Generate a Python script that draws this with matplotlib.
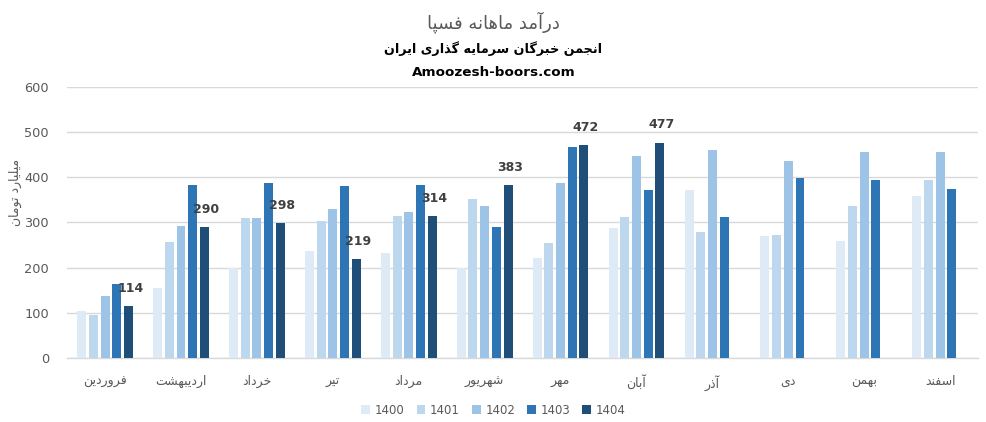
import numpy as np
import matplotlib
matplotlib.use("Agg")
import matplotlib.pyplot as plt
from matplotlib.patches import Patch

# ---------------- data ----------------
title_main = "درآمد ماهانه فسپا"
title_sub = "انجمن خبرگان سرمایه گذاری ایران"
title_site = "Amoozesh-boors.com"
y_label = "میلیارد تومان"

months = ["فروردین", "اردیبهشت", "خرداد", "تیر", "مرداد", "شهریور",
          "مهر", "آبان", "آذر", "دی", "بهمن", "اسفند"]
years = ["1400", "1401", "1402", "1403", "1404"]

v1400 = [104, 155, 200, 237, 232, 199, 221, 288, 372, 270, 259, 359]
v1401 = [96, 257, 310, 303, 314, 352, 255, 312, 279, 272, 336, 394]
v1402 = [138, 293, 310, 330, 323, 336, 388, 447, 461, 436, 456, 456]
v1403 = [164, 384, 388, 381, 383, 290, 467, 372, 312, 398, 394, 374]
v1404 = [114, 290, 298, 219, 314, 383, 472, 477, None, None, None, None]

y_ticks = [0, 100, 200, 300, 400, 500, 600]

colors = ["#DEEAF6", "#BDD7EE", "#9DC3E6", "#2E75B6", "#1F4E79"]

# ---------------- minimal Arabic/Persian shaping ----------------
# (isolated, final, initial, medial) ; right-joining letters have only 2 forms
FORMS = {
    "ا": (0xFE8D, 0xFE8E), "آ": (0xFE81, 0xFE82),
    "ب": (0xFE8F, 0xFE90, 0xFE91, 0xFE92), "ت": (0xFE95, 0xFE96, 0xFE97, 0xFE98),
    "ث": (0xFE99, 0xFE9A, 0xFE9B, 0xFE9C), "ج": (0xFE9D, 0xFE9E, 0xFE9F, 0xFEA0),
    "ح": (0xFEA1, 0xFEA2, 0xFEA3, 0xFEA4), "خ": (0xFEA5, 0xFEA6, 0xFEA7, 0xFEA8),
    "د": (0xFEA9, 0xFEAA), "ذ": (0xFEAB, 0xFEAC), "ر": (0xFEAD, 0xFEAE),
    "ز": (0xFEAF, 0xFEB0), "ژ": (0xFB8A, 0xFB8B),
    "س": (0xFEB1, 0xFEB2, 0xFEB3, 0xFEB4), "ش": (0xFEB5, 0xFEB6, 0xFEB7, 0xFEB8),
    "ص": (0xFEB9, 0xFEBA, 0xFEBB, 0xFEBC), "ض": (0xFEBD, 0xFEBE, 0xFEBF, 0xFEC0),
    "ط": (0xFEC1, 0xFEC2, 0xFEC3, 0xFEC4), "ظ": (0xFEC5, 0xFEC6, 0xFEC7, 0xFEC8),
    "ع": (0xFEC9, 0xFECA, 0xFECB, 0xFECC), "غ": (0xFECD, 0xFECE, 0xFECF, 0xFED0),
    "ف": (0xFED1, 0xFED2, 0xFED3, 0xFED4), "ق": (0xFED5, 0xFED6, 0xFED7, 0xFED8),
    "ل": (0xFEDD, 0xFEDE, 0xFEDF, 0xFEE0), "م": (0xFEE1, 0xFEE2, 0xFEE3, 0xFEE4),
    "ن": (0xFEE5, 0xFEE6, 0xFEE7, 0xFEE8), "ه": (0xFEE9, 0xFEEA, 0xFEEB, 0xFEEC),
    "و": (0xFEED, 0xFEEE),
    "ی": (0xFEEF, 0xFEF0, 0xFEF3, 0xFEF4), "ي": (0xFEF1, 0xFEF2, 0xFEF3, 0xFEF4),
    "پ": (0xFB56, 0xFB57, 0xFB58, 0xFB59), "چ": (0xFB7A, 0xFB7B, 0xFB7C, 0xFB7D),
    "ک": (0xFB8E, 0xFB8F, 0xFB90, 0xFB91), "گ": (0xFB92, 0xFB93, 0xFB94, 0xFB95),
}
LAM_ALEF = {"ا": (0xFEFB, 0xFEFC), "آ": (0xFEF5, 0xFEF6)}


def dual(c):
    return c in FORMS and len(FORMS[c]) == 4


def shape(text):
    out = []
    i = 0
    n = len(text)
    while i < n:
        c = text[i]
        if c not in FORMS:
            out.append(c)
            i += 1
            continue
        prev = text[i - 1] if i > 0 else ""
        joins_prev = dual(prev)
        if c == "ل" and i + 1 < n and text[i + 1] in LAM_ALEF:
            f = LAM_ALEF[text[i + 1]]
            out.append(chr(f[1] if joins_prev else f[0]))
            i += 2
            continue
        nxt = text[i + 1] if i + 1 < n else ""
        joins_next = dual(c) and nxt in FORMS
        f = FORMS[c]
        if joins_prev and joins_next:
            g = f[3]
        elif joins_prev:
            g = f[1]
        elif joins_next:
            g = f[2]
        else:
            g = f[0]
        out.append(chr(g))
        i += 1
    return "".join(out)[::-1]


# ---------------- figure ----------------
plt.rcParams["font.family"] = ["DejaVu Sans"]
fig = plt.figure(figsize=(9.87, 4.22), dpi=100)
ax = fig.add_axes([0.068, 0.1517, 0.923, 0.6421])

series = [v1400, v1401, v1402, v1403, v1404]
x = np.arange(len(months))
step = 0.154
width = 0.118
for k, (vals, col, yr) in enumerate(zip(series, colors, years)):
    vv = np.array([np.nan if v is None else v for v in vals], dtype=float)
    pos = x + (k - 2) * step
    ax.bar(pos, vv, width=width, color=col, zorder=3, label=yr)
    if yr == "1404":
        for p, v in zip(pos, vv):
            if not np.isnan(v):
                ax.annotate(f"{int(v)}", (p, v), xytext=(1.5, 8),
                            textcoords="offset points", ha="center", va="bottom",
                            fontsize=9, fontweight="bold", color="#404040", zorder=4)

ax.set_xlim(-0.5, len(months) - 0.5)
ax.set_ylim(0, 600)
ax.set_yticks(y_ticks)
ax.set_yticklabels([str(t) for t in y_ticks])
ax.set_xticks(x)
ax.set_xticklabels([shape(m) for m in months])
ax.grid(axis="y", color="#D9D9D9", linewidth=1.0, zorder=0)
for s in ["top", "right", "left"]:
    ax.spines[s].set_visible(False)
ax.spines["bottom"].set_color("#D9D9D9")
ax.spines["bottom"].set_linewidth(1.0)
ax.tick_params(axis="y", length=0, pad=13, labelsize=9.3, labelcolor="#595959")
ax.tick_params(axis="x", length=0, pad=12, labelsize=9, labelcolor="#595959")

fig.text(0.016, 0.545, shape(y_label), rotation=90, ha="center", va="center",
         fontsize=9, color="#595959")

fig.text(0.5, 0.947, shape(title_main), ha="center", va="center",
         fontsize=13, color="#595959")
fig.text(0.5, 0.886, shape(title_sub), ha="center", va="center",
         fontsize=9.2, fontweight="bold", color="black")
fig.text(0.5, 0.829, title_site, ha="center", va="center",
         fontsize=9.7, fontweight="bold", color="black")

handles = [Patch(facecolor=c, edgecolor="none") for c in colors]
fig.legend(handles, years, loc="center", bbox_to_anchor=(0.5, 0.028), ncol=5,
           frameon=False, fontsize=8.5, labelcolor="#595959",
           handlelength=0.75, handleheight=0.75, handletextpad=0.4,
           columnspacing=1.0)

fig.savefig("out.png", dpi=100)
